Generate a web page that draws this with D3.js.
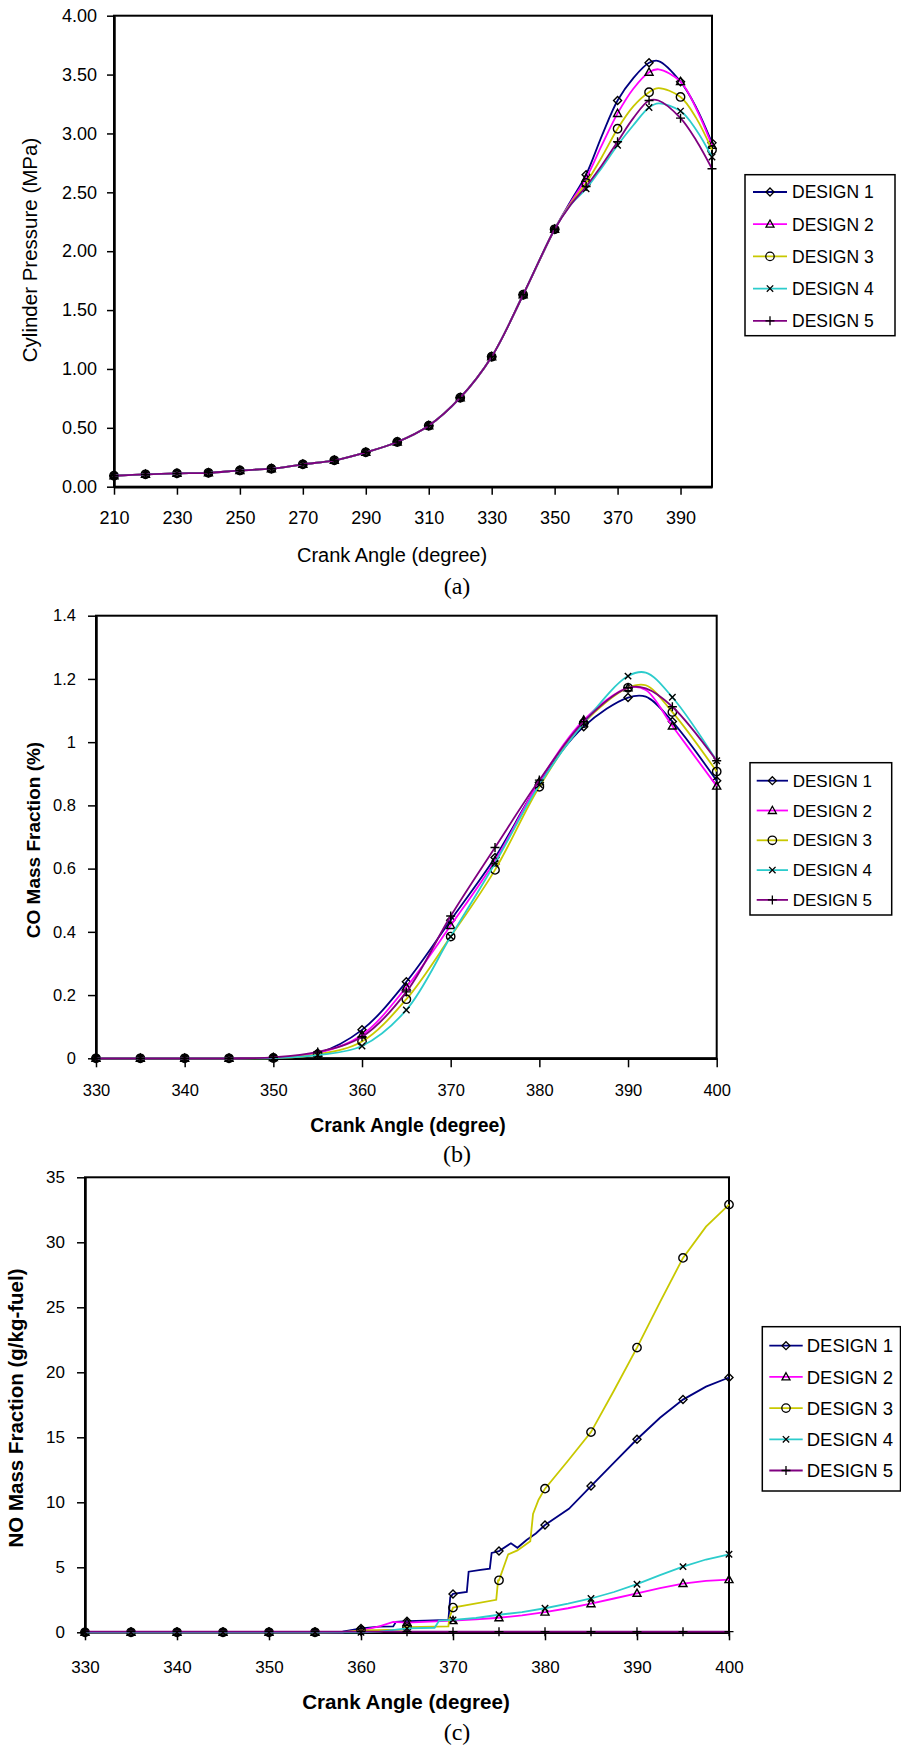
<!DOCTYPE html>
<html>
<head>
<meta charset="utf-8">
<script src="https://cdn.jsdelivr.net/npm/d3@7"></script>
<style>
body { margin: 0; background: #fff; }
svg { display: block; }
text { fill: #000; font-family: "Liberation Sans", Arial, sans-serif; }
</style>
</head>
<body>
<div id="chart"></div>
<script>
// series shared by the three panels
var seriesNames = ["DESIGN 1", "DESIGN 2", "DESIGN 3", "DESIGN 4", "DESIGN 5"];
var seriesColors = ["#000080", "#ff00ff", "#c8c800", "#2ccccc", "#800080"];
var seriesMarkers = ["diamond", "triangle", "circle", "cross", "plus"];

// (a) cylinder pressure, MPa
var pressureAngles = [210, 220, 230, 240, 250, 260, 270, 280, 290, 300, 310, 320, 330, 340, 350,
                      355, 360, 365, 370, 375, 380, 383, 390, 395, 400];
var pressureCommon = [0.093, 0.105, 0.113, 0.118, 0.138, 0.153, 0.19, 0.224, 0.292, 0.38, 0.518, 0.756, 1.104, 1.63, 2.186];
var pressureD1 = pressureCommon.concat([2.42, 2.65, 2.98, 3.28, 3.47, 3.60, 3.615, 3.44, 3.22, 2.92]);
var pressureD2 = pressureCommon.concat([2.41, 2.62, 2.90, 3.17, 3.38, 3.52, 3.545, 3.44, 3.21, 2.90]);
var pressureD3 = pressureCommon.concat([2.40, 2.58, 2.80, 3.04, 3.23, 3.35, 3.385, 3.31, 3.13, 2.86]);
var pressureD4 = pressureCommon.concat([2.39, 2.53, 2.71, 2.90, 3.07, 3.22, 3.255, 3.19, 3.03, 2.80]);
var pressureD5 = pressureCommon.concat([2.39, 2.55, 2.73, 2.93, 3.13, 3.28, 3.28, 3.13, 2.94, 2.70]);
var pressureMarkerAngles = [210, 220, 230, 240, 250, 260, 270, 280, 290, 300, 310, 320, 330, 340, 350, 360, 370, 380, 390, 400];
var pressureXTicks = [210, 230, 250, 270, 290, 310, 330, 350, 370, 390];
var pressureYTicks = [0, 0.5, 1, 1.5, 2, 2.5, 3, 3.5, 4];

// (b) CO mass fraction, %
var coAngles = [330, 335, 340, 345, 350, 355, 360, 365, 370, 375, 380, 385, 390, 392, 395, 400];
var coD1 = [0, 0, 0, 0, 0.002, 0.016, 0.09, 0.242, 0.437, 0.635, 0.872, 1.049, 1.141, 1.144, 1.065, 0.878];
var coD2 = [0, 0, 0, 0, 0.002, 0.016, 0.074, 0.225, 0.42, 0.625, 0.875, 1.07, 1.172, 1.165, 1.051, 0.861];
var coD3 = [0, 0, 0, 0, 0.001, 0.012, 0.053, 0.187, 0.385, 0.596, 0.859, 1.06, 1.172, 1.18, 1.095, 0.907];
var coD4 = [0, 0, 0, 0, 0.001, 0.01, 0.039, 0.153, 0.385, 0.617, 0.865, 1.06, 1.209, 1.22, 1.142, 0.941];
var coD5 = [0, 0, 0, 0, 0.003, 0.02, 0.068, 0.21, 0.45, 0.667, 0.88, 1.065, 1.172, 1.17, 1.112, 0.941];
var coMarkerAngles = [330, 335, 340, 345, 350, 355, 360, 365, 370, 375, 380, 385, 390, 395, 400];
var coXTicks = [330, 340, 350, 360, 370, 380, 390, 400];
var coYTicks = [0, 0.2, 0.4, 0.6, 0.8, 1, 1.2, 1.4];

// (c) NO mass fraction, g/kg-fuel  ([angle, value])
var noD1 = [[330, 0], [335, 0], [340, 0], [345, 0], [350, 0], [355, 0], [358, 0.05], [360, 0.3], [362, 0.43], [363.5, 0.45],
            [363.8, 0.8], [365, 0.85], [367, 0.9], [369.5, 0.95], [369.7, 2.7], [370, 2.95], [371.5, 3.1], [371.7, 4.66],
            [373, 4.8], [374, 4.9], [374.2, 6.1], [375, 6.25], [376.3, 6.85], [377, 6.5], [378, 7.1], [379, 7.6], [380, 8.25],
            [382.6, 9.5], [385, 11.25], [387.5, 13.05], [390, 14.85], [392.5, 16.5], [395, 17.9], [397.5, 18.9], [400, 19.6]];
var noD2 = [[330, 0], [335, 0], [340, 0], [345, 0], [350, 0], [355, 0], [358, 0], [360, 0.15], [362, 0.45], [363.5, 0.8],
            [365, 0.75], [370, 0.9], [372.5, 1.0], [375, 1.12], [377.5, 1.3], [380, 1.55], [382.5, 1.85], [385, 2.2],
            [387.5, 2.6], [390, 3.0], [392.5, 3.4], [395, 3.75], [397.5, 3.95], [400, 4.05]];
var noD3 = [[330, 0], [335, 0], [340, 0], [345, 0], [350, 0], [355, 0], [358, 0.02], [360, 0.15], [364.5, 0.2], [364.7, 0.4],
            [365, 0.4], [369.5, 0.45], [369.6, 1.08], [370, 1.9], [374.7, 2.5], [374.9, 4.0], [375, 4.0], [376, 6.0],
            [377, 6.3], [378.4, 7.0], [378.7, 9.1], [379.3, 10.2], [380, 11.05], [382.5, 13.2], [385, 15.4], [387.5, 18.6],
            [390, 21.9], [392.5, 25.4], [395, 28.8], [397.5, 31.2], [400, 32.9]];
var noD4 = [[330, 0], [335, 0], [340, 0], [345, 0], [350, 0], [355, 0], [360, 0], [362, 0.05], [365, 0.3], [368, 0.35],
            [368.5, 0.9], [370, 0.95], [372.5, 1.1], [375, 1.35], [377.5, 1.55], [380, 1.85], [382.5, 2.2], [385, 2.6],
            [387.5, 3.1], [390, 3.7], [392.5, 4.4], [395, 5.05], [397.5, 5.6], [400, 6.0]];
var noD5 = [[330, 0.05], [335, 0.05], [340, 0.05], [345, 0.05], [350, 0.05], [355, 0.05], [360, 0.05], [365, 0.05],
            [370, 0.05], [375, 0.05], [380, 0.05], [385, 0.05], [390, 0.05], [395, 0.05], [400, 0.05]];
var noMarkerAngles = coMarkerAngles;
var noXTicks = [330, 340, 350, 360, 370, 380, 390, 400];
var noYTicks = [0, 5, 10, 15, 20, 25, 30, 35];

function zipPoints(angles, values) {
    return angles.map(function(a, i) { return [a, values[i]]; });
}

var markerPaths = {
    diamond: "M0,-4L4,0L0,4L-4,0Z",
    triangle: "M0,-4.2L4,3L-4,3Z",
    circle: "M4.2,0A4.2,4.2 0 1,1 -4.2,0A4.2,4.2 0 1,1 4.2,0Z",
    cross: "M-3.2,-3.2L3.2,3.2M3.2,-3.2L-3.2,3.2",
    plus: "M-4.5,0L4.5,0M0,-4.5L0,4.5"
};

var svg = d3.select("#chart").append("svg")
    .attr("width", 901)
    .attr("height", 1747);

/*
 * LinePanel - one framed plot with its legend
 */
LinePanel = function(_svg, _opts) {
    this.svg = _svg;
    this.opts = _opts;
    this.initVis();
};

LinePanel.prototype.initVis = function() {
    var vis = this, o = vis.opts;

    vis.x = d3.scaleLinear().domain(o.xDomain).range([o.left, o.right]);
    vis.y = d3.scaleLinear().domain(o.yDomain).range([o.bottom, o.top]);

    vis.g = vis.svg.append("g");

    // plot area border
    vis.g.append("rect")
        .attr("x", o.left)
        .attr("y", o.top)
        .attr("width", o.right - o.left)
        .attr("height", o.bottom - o.top)
        .attr("fill", "none")
        .attr("stroke", "#000")
        .attr("stroke-width", 2);

    vis.xAxis = d3.axisBottom(vis.x)
        .tickValues(o.xTicks)
        .tickSize(o.xTickSize)
        .tickSizeOuter(0)
        .tickPadding(o.xPad)
        .tickFormat(d3.format("d"));

    vis.yAxis = d3.axisLeft(vis.y)
        .tickValues(o.yTicks)
        .tickSize(o.yTickSize)
        .tickSizeOuter(0)
        .tickPadding(o.yPad)
        .tickFormat(o.yFormat);

    vis.xG = vis.g.append("g")
        .attr("class", "x-axis axis")
        .attr("transform", "translate(0," + o.bottom + ")")
        .call(vis.xAxis);

    vis.yG = vis.g.append("g")
        .attr("class", "y-axis axis")
        .attr("transform", "translate(" + o.left + ",0)")
        .call(vis.yAxis);

    [vis.xG, vis.yG].forEach(function(ax) {
        ax.select(".domain").attr("stroke", "#000").attr("stroke-width", 2.5);
        ax.selectAll(".tick line").attr("stroke", "#000").attr("stroke-width", 1.5);
        ax.selectAll("text")
            .attr("fill", "#000")
            .style("font-family", "'Liberation Sans', Arial, sans-serif")
            .style("font-size", o.tickFont + "px");
    });

    // axis titles
    vis.g.append("text")
        .attr("x", o.xTitlePos[0])
        .attr("y", o.xTitlePos[1])
        .style("text-anchor", "middle")
        .style("font-size", o.titleFont + "px")
        .style("font-weight", o.titleWeight)
        .text(o.xTitle);

    vis.g.append("text")
        .attr("transform", "translate(" + o.yTitlePos[0] + "," + o.yTitlePos[1] + ") rotate(-90)")
        .attr("dy", "0.35em")
        .style("text-anchor", "middle")
        .style("font-size", o.yTitleFont + "px")
        .style("font-weight", o.titleWeight)
        .text(o.yTitle);

    // caption under the panel
    vis.g.append("text")
        .attr("x", o.captionPos[0])
        .attr("y", o.captionPos[1])
        .style("text-anchor", "middle")
        .style("font-family", "'Liberation Serif', 'Times New Roman', serif")
        .style("font-size", "24px")
        .text(o.caption);

    vis.updateVis();
    vis.drawLegend();
};

LinePanel.prototype.updateVis = function() {
    var vis = this, o = vis.opts;

    var line = d3.line()
        .x(function(d) { return vis.x(d[0]); })
        .y(function(d) { return vis.y(d[1]); })
        .curve(o.curve);

    o.series.forEach(function(pts, i) {
        vis.g.append("path")
            .datum(pts)
            .attr("d", line)
            .attr("fill", "none")
            .attr("stroke", seriesColors[i])
            .attr("stroke-width", 1.8);

        var marked = pts.filter(function(d) { return o.markerAngles.indexOf(d[0]) >= 0; });

        vis.g.selectAll(".mk" + i)
            .data(marked)
            .enter()
            .append("path")
            .attr("class", "mk" + i)
            .attr("transform", function(d) { return "translate(" + vis.x(d[0]) + "," + vis.y(d[1]) + ")"; })
            .attr("d", markerPaths[seriesMarkers[i]])
            .attr("fill", "none")
            .attr("stroke", "#000")
            .attr("stroke-width", 1.4);
    });
};

LinePanel.prototype.drawLegend = function() {
    var vis = this, L = vis.opts.legend;

    var lg = vis.g.append("g");

    lg.append("rect")
        .attr("x", L.x0)
        .attr("y", L.y0)
        .attr("width", L.x1 - L.x0)
        .attr("height", L.y1 - L.y0)
        .attr("fill", "#fff")
        .attr("stroke", "#000")
        .attr("stroke-width", 1.5);

    seriesNames.forEach(function(name, i) {
        var cy = L.rowY + i * L.rowStep;
        lg.append("line")
            .attr("x1", L.lineX0)
            .attr("x2", L.lineX1)
            .attr("y1", cy)
            .attr("y2", cy)
            .attr("stroke", seriesColors[i])
            .attr("stroke-width", 1.8);
        lg.append("path")
            .attr("transform", "translate(" + ((L.lineX0 + L.lineX1) / 2) + "," + cy + ")")
            .attr("d", markerPaths[seriesMarkers[i]])
            .attr("fill", "none")
            .attr("stroke", "#000")
            .attr("stroke-width", 1.3);
        lg.append("text")
            .attr("x", L.textX)
            .attr("y", cy)
            .attr("dy", "0.36em")
            .style("font-size", L.font + "px")
            .text(name);
    });
};

var panelA = new LinePanel(svg, {
    left: 114, right: 712, top: 15.7, bottom: 486.7,
    xDomain: [210, 400], yDomain: [0, 4],
    xTicks: pressureXTicks, yTicks: pressureYTicks,
    xTickSize: 8, xPad: 17, yTickSize: 7, yPad: 10,
    yFormat: d3.format(".2f"), tickFont: 18,
    xTitle: "Crank Angle (degree)", xTitlePos: [392, 562],
    yTitle: "Cylinder Pressure (MPa)", yTitlePos: [30, 250],
    titleFont: 20, yTitleFont: 20.5, titleWeight: "normal",
    caption: "(a)", captionPos: [457, 594],
    curve: d3.curveCatmullRom.alpha(0.5),
    markerAngles: pressureMarkerAngles,
    series: [pressureD1, pressureD2, pressureD3, pressureD4, pressureD5].map(function(v) { return zipPoints(pressureAngles, v); }),
    legend: {x0: 745, x1: 895, y0: 174.7, y1: 335.7, rowY: 192, rowStep: 32.2,
             lineX0: 753, lineX1: 787, textX: 792, font: 17.5}
});

var panelB = new LinePanel(svg, {
    left: 96, right: 716.7, top: 615.7, bottom: 1058.3,
    xDomain: [330, 400], yDomain: [0, 1.4],
    xTicks: coXTicks, yTicks: coYTicks,
    xTickSize: 9, xPad: 17, yTickSize: 8, yPad: 12,
    yFormat: function(d) { return String(+d.toFixed(1)); }, tickFont: 16.5,
    xTitle: "Crank Angle (degree)", xTitlePos: [408, 1132],
    yTitle: "CO Mass Fraction (%)", yTitlePos: [33, 840],
    titleFont: 19.4, yTitleFont: 19, titleWeight: "bold",
    caption: "(b)", captionPos: [457, 1162],
    curve: d3.curveCatmullRom.alpha(0.5),
    markerAngles: coMarkerAngles,
    series: [coD1, coD2, coD3, coD4, coD5].map(function(v) { return zipPoints(coAngles, v); }),
    legend: {x0: 750, x1: 891.7, y0: 762.7, y1: 915, rowY: 780.7, rowStep: 29.8,
             lineX0: 756.7, lineX1: 788, textX: 792.7, font: 17}
});

var panelC = new LinePanel(svg, {
    left: 85, right: 729, top: 1177.3, bottom: 1632.3,
    xDomain: [330, 400], yDomain: [0, 35],
    xTicks: noXTicks, yTicks: noYTicks,
    xTickSize: 8, xPad: 21, yTickSize: 8, yPad: 12,
    yFormat: d3.format("d"), tickFont: 17,
    xTitle: "Crank Angle (degree)", xTitlePos: [406, 1709],
    yTitle: "NO Mass Fraction (g/kg-fuel)", yTitlePos: [16, 1408],
    titleFont: 20.6, yTitleFont: 20.5, titleWeight: "bold",
    caption: "(c)", captionPos: [457, 1740],
    curve: d3.curveLinear,
    markerAngles: noMarkerAngles,
    series: [noD1, noD2, noD3, noD4, noD5],
    legend: {x0: 762.3, x1: 900.5, y0: 1326.7, y1: 1491, rowY: 1345.7, rowStep: 31.2,
             lineX0: 769.3, lineX1: 802.7, textX: 806.7, font: 18.5}
});
</script>
</body>
</html>
